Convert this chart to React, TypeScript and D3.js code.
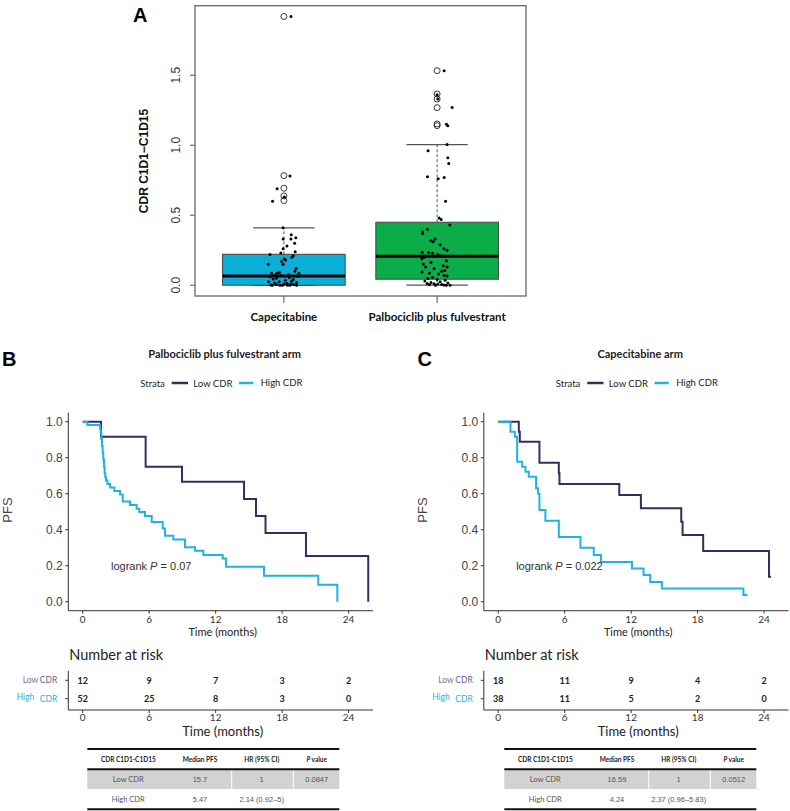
import React from "react";
import * as d3 from "d3";

// ---------- Panel A data ----------
const boxCategories = ["Capecitabine", "Palbociclib plus fulvestrant"];
const boxColors = ["#0aafd7", "#0aad48"];
const boxQ1 = [0.0, 0.043];
const boxMedian = [0.066, 0.207];
const boxQ3 = [0.221, 0.45];
const whiskerLow = [0.0, 0.0];
const whiskerHigh = [0.41, 1.004];
const capeOutliers = [1.92, 0.783, 0.693, 0.638, 0.605];
const palboOutliers = [1.533, 1.366, 1.33, 1.269, 1.152, 1.14];
const boxYTicks = [0, 0.5, 1.0, 1.5];

const capeValues = [1.92, 0.78, 0.69, 0.6, 0.63, 0.41, 0.36, 0.34, 0.33, 0.33, 0.28, 0.26, 0.24, 0.22, 0.21, 0.2, 0.19, 0.18, 0.15, 0.15,
  0.1, 0.085, 0.085, 0.085, 0.07, 0.064, 0.05, 0.04, 0.025, 0.025, 0.0, 0.005, 0.0, 0.01, 0.0, 0.01, 0.0, 0.02,
  0.06, 0.07, 0.055, 0.045, 0.035, 0.03, 0.015, 0.005, 0.0, 0.0, 0.002, 0.012, 0.075, 0.09, 0.12, 0.17, 0.3, 0.23];
const capeJitter = [0.046, 0.04, -0.044, -0.074, 0.003, -0.005, 0.048, 0.078, -0.005, 0.046, 0.02, -0.005, 0.074, -0.091, 0.061, 0.052, 0.002, 0.011, -0.102, -0.005,
  0.072, -0.08, -0.046, 0.098, -0.063, 0.093, -0.048, 0.061, -0.1, -0.031, -0.076, -0.048, -0.026, 0.002, 0.024, 0.046, 0.083, 0.083,
  -0.09, -0.02, 0.035, -0.07, 0.01, 0.05, -0.06, 0.065, -0.01, 0.04, -0.085, 0.02, 0.03, -0.03, 0.08, -0.015, 0.07, -0.02];

const palboValues = [1.533, 1.36, 1.27, 1.15, 1.14, 1.005, 0.96, 0.91, 0.87, 0.775, 0.76, 0.77, 0.6, 0.48, 0.47, 0.43, 0.4, 0.38, 0.37, 0.33, 0.32, 0.31, 0.26, 0.25, 1.33,
  0.236, 0.233, 0.228, 0.22, 0.21, 0.2, 0.19, 0.175, 0.165, 0.152, 0.14, 0.13, 0.13, 0.12, 0.105, 0.1, 0.095, 0.086, 0.08, 0.07, 0.065, 0.055, 0.048, 0.04, 0.036, 0.03, 0.025, 0.02, 0.015, 0.012, 0.01, 0.008, 0.005, 0.003, 0.002, 0.0, 0.0, 0.0, 0.29];
const palboJitter = [0.046, 0.0, 0.098, 0.061, 0.07, 0.065, -0.059, 0.07, 0.076, -0.063, 0.007, 0.046, 0.055, 0.013, 0.026, 0.083, -0.063, -0.095, -0.095, -0.013, -0.041, -0.026, 0.044, 0.065, 0.005,
  -0.098, -0.055, -0.03, 0.005, 0.03, -0.085, -0.1, 0.06, -0.04, -0.09, 0.04, -0.075, 0.065, -0.02, 0.05, 0.03, -0.098, -0.05, 0.01, 0.045, 0.065, -0.03, -0.06, 0.0, 0.052, -0.08, 0.02, -0.04, 0.07, -0.065, -0.02, 0.005, 0.03, -0.05, 0.045, -0.01, 0.085, 0.06, 0.02];

// ---------- KM data ----------
const kmTicksX = [0, 6, 12, 18, 24];
const kmTicksY = [0, 0.2, 0.4, 0.6, 0.8, 1.0];

const palboLowTimes = [0, 1.65, 5.68, 8.96, 14.56, 15.64, 16.5, 20.15, 25.77];
const palboLowSurv = [1, 0.917, 0.75, 0.667, 0.571, 0.476, 0.381, 0.254, 0];
const palboHighTimes = [0, 0.42, 1.56, 1.62, 1.68, 1.74, 1.8, 1.86, 1.92, 1.98, 2.04, 2.1, 2.23, 2.47, 2.86, 3.37, 3.61, 4.27, 4.87, 5.11, 5.62, 6.23, 7.22, 7.43, 8.18, 9.23, 10.14, 10.89, 12.63, 12.93, 16.36, 21.26, 22.98];
const palboHighSurv = [1, 0.981, 0.962, 0.942, 0.904, 0.865, 0.827, 0.788, 0.75, 0.712, 0.692, 0.673, 0.654, 0.635, 0.615, 0.596, 0.556, 0.537, 0.517, 0.498, 0.476, 0.443, 0.407, 0.367, 0.346, 0.302, 0.283, 0.259, 0.24, 0.194, 0.144, 0.094, 0];

const capeLowTimes = [0, 1.86, 1.95, 3.72, 5.47, 5.53, 10.93, 12.88, 16.52, 16.64, 18.5, 24.44, 24.62];
const capeLowSurv = [1, 0.944, 0.889, 0.772, 0.713, 0.654, 0.593, 0.519, 0.444, 0.37, 0.281, 0.139, 0.139];
const capeHighTimes = [0, 1.11, 1.5, 1.71, 2.16, 2.46, 2.76, 3.42, 3.6, 3.72, 4.26, 5.47, 7.42, 8.62, 9.28, 12.07, 13.12, 13.72, 14.77, 22.13, 22.49];
const capeHighSurv = [1, 0.944, 0.917, 0.778, 0.75, 0.722, 0.694, 0.63, 0.6, 0.51, 0.45, 0.36, 0.3, 0.26, 0.22, 0.185, 0.148, 0.11, 0.074, 0.037, 0.037];

const palboRiskLow = [12, 9, 7, 3, 2];
const palboRiskHigh = [52, 25, 8, 3, 0];
const capeRiskLow = [18, 11, 9, 4, 2];
const capeRiskHigh = [38, 11, 5, 2, 0];

const tableHeader = ["CDR  C1D1-C1D15", "Median PFS", "HR (95% CI)", "value"];
const palboTableRows = [["Low CDR", "15.7", "1", "0.0847"], ["High CDR", "5.47", "2.14 (0.92–5)", ""]];
const capeTableRows = [["Low CDR", "16.59", "1", "0.0512"], ["High CDR", "4.24", "2.37 (0.96–5.83)", ""]];

const LOW_COLOR = "#3d2a5c";
const HIGH_COLOR = "#1fb2e3";
const CAL = "Lato, 'Open Sans', sans-serif";
const ARIAL = "'Liberation Sans', Arial, sans-serif";

function BoxPanel() {
  const x = d3.scaleLinear().domain([0.42, 2.58]).range([195, 526]);
  const y = d3.scaleLinear().domain([-0.077, 1.997]).range([296, 5.7]);
  const bw = 0.4;
  const cw = 0.2;
  const groups = [
    { vals: capeValues, jit: capeJitter, out: capeOutliers },
    { vals: palboValues, jit: palboJitter, out: palboOutliers },
  ];
  return (
    <g>
      <text x={133} y={22} fontFamily={ARIAL} fontWeight="bold" fontSize={20} fill="#000">A</text>
      {boxYTicks.map((t) => (
        <g key={t}>
          <line x1={x(0.42)} x2={x(0.42) - 5} y1={y(t)} y2={y(t)} stroke="#555" />
          <text transform={`translate(180,${y(t)}) rotate(-90)`} textAnchor="middle" fontFamily={ARIAL} fontSize={12} fill="#333">{t.toFixed(1)}</text>
        </g>
      ))}
      <text transform={`translate(148,161) rotate(-90)`} textAnchor="middle" fontFamily={ARIAL} fontWeight="bold" fontSize={12} fill="#111">CDR C1D1−C1D15</text>
      {boxCategories.map((c, i) => {
        const cx = x(i + 1);
        return (
          <g key={c}>
            <line x1={cx} x2={cx} y1={296} y2={303} stroke="#555" />
            <text x={cx} y={321} textAnchor="middle" fontFamily={CAL} fontWeight="bold" fontSize={11.5} fill="#111">{c}</text>
            <line x1={cx} x2={cx} y1={y(boxQ3[i])} y2={y(whiskerHigh[i])} stroke="#555" strokeDasharray="3,2" />
            <line x1={cx} x2={cx} y1={y(boxQ1[i])} y2={y(whiskerLow[i])} stroke="#555" strokeDasharray="3,2" />
            <line x1={x(i + 1 - cw)} x2={x(i + 1 + cw)} y1={y(whiskerHigh[i])} y2={y(whiskerHigh[i])} stroke="#555" strokeWidth={1.2} />
            <line x1={x(i + 1 - cw)} x2={x(i + 1 + cw)} y1={y(whiskerLow[i])} y2={y(whiskerLow[i])} stroke="#555" strokeWidth={1.2} />
            <rect x={x(i + 1 - bw)} width={x(i + 1 + bw) - x(i + 1 - bw)} y={y(boxQ3[i])} height={y(boxQ1[i]) - y(boxQ3[i])} fill={boxColors[i]} stroke="#444" strokeWidth={1} />
            <line x1={x(i + 1 - bw)} x2={x(i + 1 + bw)} y1={y(boxMedian[i])} y2={y(boxMedian[i])} stroke="#000" strokeWidth={3} />
            {groups[i].out.map((v, k) => (
              <circle key={"o" + k} cx={cx} cy={y(v)} r={3} fill="none" stroke="#222" strokeWidth={0.9} />
            ))}
            {groups[i].vals.map((v, k) => (
              <circle key={"p" + k} cx={x(i + 1 + groups[i].jit[k])} cy={y(v)} r={1.5} fill="#000" />
            ))}
          </g>
        );
      })}
      <rect x={195} y={5.7} width={331} height={290.3} fill="none" stroke="#666" strokeWidth={1.3} />
    </g>
  );
}

type KMProps = {
  dx: number;
  letter: string;
  title: string;
  lowT: number[]; lowS: number[]; highT: number[]; highS: number[];
  riskLow: number[]; riskHigh: number[];
  pText: string; pMonth: number;
  rows: string[][];
  tableLeft: number;
};

function KMPanel(p: KMProps) {
  const x = d3.scaleLinear().domain([-1.3, 26.2]).range([68.3 + p.dx, 373 + p.dx]);
  const y = d3.scaleLinear().domain([-0.05, 1.05]).range([610.7, 412.7]);
  const line = d3.line<[number, number]>().x((d) => x(d[0])).y((d) => y(d[1])).curve(d3.curveStepAfter);
  const low = p.lowT.map((t, i) => [t, p.lowS[i]] as [number, number]);
  const high = p.highT.map((t, i) => [t, p.highS[i]] as [number, number]);
  const ax = x(-1.3);
  const cx = (x(-1.3) + x(26.2)) / 2;
  const rY = [680.3, 698.7];
  const tl = p.tableLeft;
  const colC = [41, 112.7, 174.4, 229.4];
  return (
    <g>
      <text x={p.dx + 2} y={366} fontFamily={ARIAL} fontWeight="bold" fontSize={20} fill="#000">{p.letter}</text>
      <text x={cx + 4} y={358} textAnchor="middle" fontFamily={CAL} fontWeight="bold" fontSize={11} fill="#222">{p.title}</text>
      <g fontFamily={CAL} fontSize={9.5} fill="#222">
        <text x={ax + 72} y={386.5}>Strata</text>
        <line x1={ax + 103.4} x2={ax + 119.7} y1={383} y2={383} stroke={LOW_COLOR} strokeWidth={2.5} />
        <text x={ax + 125} y={386.5}>Low CDR</text>
        <line x1={ax + 170.7} x2={ax + 185} y1={383} y2={383} stroke={HIGH_COLOR} strokeWidth={2.5} />
        <text x={ax + 192.4} y={385.5}>High CDR</text>
      </g>
      <line x1={ax} x2={ax} y1={412.7} y2={610.7} stroke="#333" strokeWidth={1} />
      <line x1={ax} x2={x(26.2)} y1={610.7} y2={610.7} stroke="#333" strokeWidth={1} />
      {kmTicksY.map((t) => (
        <g key={t}>
          <line x1={ax - 3} x2={ax} y1={y(t)} y2={y(t)} stroke="#333" />
          <text x={ax - 5.5} y={y(t) + 4.2} textAnchor="end" fontFamily={ARIAL} fontSize={12} fill="#444">{t.toFixed(1)}</text>
        </g>
      ))}
      {kmTicksX.map((t) => (
        <g key={t}>
          <line x1={x(t)} x2={x(t)} y1={610.7} y2={613.7} stroke="#333" />
          <text x={x(t)} y={623} textAnchor="middle" fontFamily={CAL} fontSize={10} fill="#333">{t}</text>
        </g>
      ))}
      <text x={cx + 2} y={636} textAnchor="middle" fontFamily={CAL} fontSize={11} fill="#222">Time (months)</text>
      <text transform={`translate(${p.dx + 11.7},510) rotate(-90)`} textAnchor="middle" fontFamily={ARIAL} fontSize={13} fill="#444">PFS</text>
      <path d={line(low) || ""} fill="none" stroke={LOW_COLOR} strokeWidth={2} />
      <path d={line(high) || ""} fill="none" stroke={HIGH_COLOR} strokeWidth={2} />
      <text x={x(p.pMonth)} y={570} fontFamily={ARIAL} fontSize={11} fill="#333">
        logrank <tspan fontStyle="italic">P</tspan> = {p.pText}
      </text>
      <text x={ax + 1} y={659.5} fontFamily={CAL} fontSize={14.5} fill="#222">Number at risk</text>
      <line x1={ax} x2={ax} y1={670.7} y2={710} stroke="#333" />
      <line x1={ax} x2={x(26.2)} y1={710} y2={710} stroke="#333" />
      {rY.map((ry, i) => (
        <line key={i} x1={ax - 3} x2={ax} y1={ry} y2={ry} stroke="#333" />
      ))}
      <text x={ax - 30} y={rY[0] + 3} textAnchor="end" fontFamily={CAL} fontSize={8.5} fill="#7d7290">Low</text>
      <text x={ax - 11} y={rY[0] + 3} textAnchor="end" fontFamily={CAL} fontSize={8.5} fill="#6c5e92">CDR</text>
      <text x={ax - 34} y={rY[1] + 1} textAnchor="end" fontFamily={CAL} fontSize={8.5} fill={HIGH_COLOR}>High</text>
      <text x={ax - 11} y={rY[1] + 3} textAnchor="end" fontFamily={CAL} fontSize={8.5} fill={HIGH_COLOR}>CDR</text>
      {kmTicksX.map((t, i) => (
        <g key={t}>
          <text x={x(t)} y={rY[0] + 3.5} textAnchor="middle" fontFamily={CAL} fontWeight="bold" fontSize={9} fill="#222">{p.riskLow[i]}</text>
          <text x={x(t)} y={rY[1] + 3.5} textAnchor="middle" fontFamily={CAL} fontWeight="bold" fontSize={9} fill="#222">{p.riskHigh[i]}</text>
          <line x1={x(t)} x2={x(t)} y1={710} y2={713} stroke="#333" />
          <text x={x(t)} y={720.5} textAnchor="middle" fontFamily={CAL} fontSize={10} fill="#333">{t}</text>
        </g>
      ))}
      <text x={cx + 2} y={736} textAnchor="middle" fontFamily={CAL} fontSize={13} fill="#222">Time (months)</text>
      <rect x={tl} y={770} width={252} height={19} fill="#d2d2d2" />
      <line x1={tl + 144.4} x2={tl + 144.4} y1={770} y2={789} stroke="#fff" strokeWidth={1} />
      <line x1={tl + 206} x2={tl + 206} y1={770} y2={789} stroke="#fff" strokeWidth={1} />
      <line x1={tl} x2={tl + 252} y1={749} y2={749} stroke="#111" strokeWidth={2} />
      <line x1={tl} x2={tl + 252} y1={769.3} y2={769.3} stroke="#111" strokeWidth={2} />
      <line x1={tl} x2={tl + 252} y1={809.3} y2={809.3} stroke="#111" strokeWidth={2} />
      {tableHeader.map((h, i) => (
        <text key={h} x={tl + colC[i]} y={762.3} textAnchor="middle" fontFamily={CAL} fontWeight="bold" fontSize={6.5} fill="#222">
          {i === 3 ? <><tspan fontStyle="italic">P</tspan> {h}</> : h}
        </text>
      ))}
      {p.rows.map((r, ri) => (
        r.map((c, ci) => (
          <text key={ri + "-" + ci} x={tl + colC[ci]} y={ri === 0 ? 782 : 802.3} textAnchor="middle" fontFamily={ci === 0 ? CAL : ARIAL} fontSize={7.5} fill="#555">{c}</text>
        ))
      ))}
    </g>
  );
}

export default function App() {
  return (
    <div style={{ position: "absolute", left: 0, top: 0 }}>
      <svg width={790} height={811} style={{ display: "block", background: "#fff" }}>
        <BoxPanel />
        <KMPanel dx={0} letter="B" title="Palbociclib plus fulvestrant arm"
          lowT={palboLowTimes} lowS={palboLowSurv} highT={palboHighTimes} highS={palboHighSurv}
          riskLow={palboRiskLow} riskHigh={palboRiskHigh} pText="0.07" pMonth={2.55}
          rows={palboTableRows} tableLeft={87.3} />
        <KMPanel dx={415.5} letter="C" title="Capecitabine arm"
          lowT={capeLowTimes} lowS={capeLowSurv} highT={capeHighTimes} highS={capeHighSurv}
          riskLow={capeRiskLow} riskHigh={capeRiskHigh} pText="0.022" pMonth={1.62}
          rows={capeTableRows} tableLeft={504.3} />
      </svg>
    </div>
  );
}
